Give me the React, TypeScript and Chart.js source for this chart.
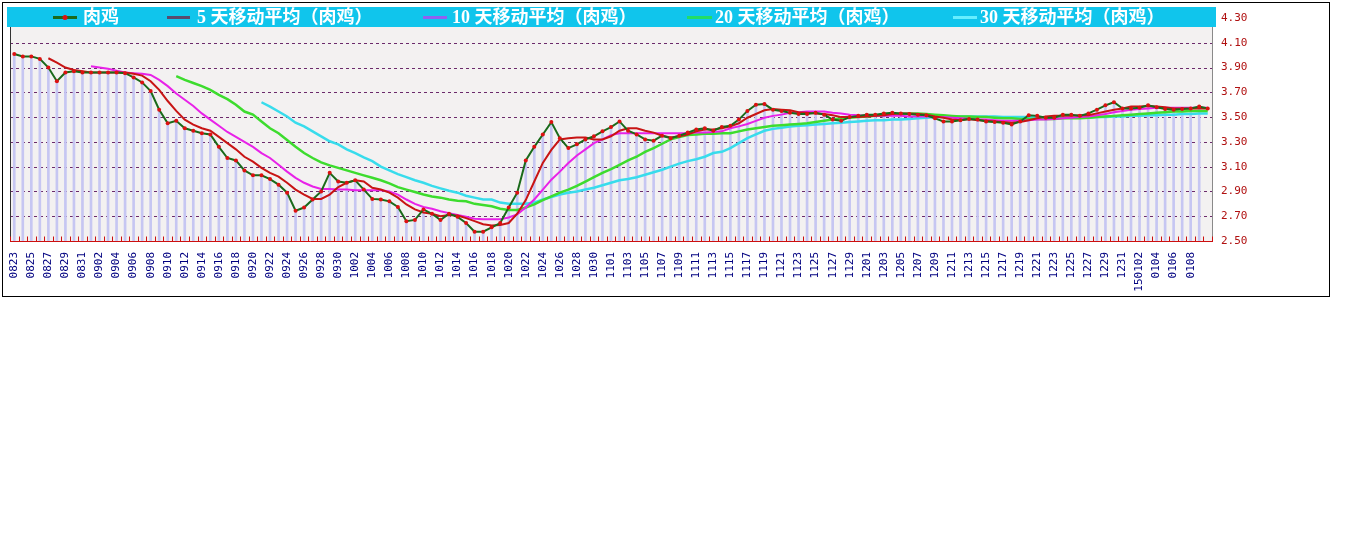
import React, { useEffect, useRef } from 'react';
import { Chart, registerables } from 'chart.js';

Chart.register(...registerables);

// ---------- DATA ----------
const dates = [
  '0823','0824','0825','0826','0827','0828','0829','0830','0831',
  '0901','0902','0903','0904','0905','0906','0907','0908','0909','0910',
  '0911','0912','0913','0914','0915','0916','0917','0918','0919','0920',
  '0921','0922','0923','0924','0925','0926','0927','0928','0929','0930',
  '1001','1002','1003','1004','1005','1006','1007','1008','1009','1010',
  '1011','1012','1013','1014','1015','1016','1017','1018','1019','1020',
  '1021','1022','1023','1024','1025','1026','1027','1028','1029','1030','1031',
  '1101','1102','1103','1104','1105','1106','1107','1108','1109','1110',
  '1111','1112','1113','1114','1115','1116','1117','1118','1119','1120',
  '1121','1122','1123','1124','1125','1126','1127','1128','1129','1130',
  '1201','1202','1203','1204','1205','1206','1207','1208','1209','1210',
  '1211','1212','1213','1214','1215','1216','1217','1218','1219','1220',
  '1221','1222','1223','1224','1225','1226','1227','1228','1229','1230','1231',
  '0101','150102','0103','0104','0105','0106','0107','0108','0109','0110',
];

// 肉鸡 daily price
const chicken = [
  4.01, 3.99, 3.99, 3.97, 3.90, 3.79, 3.86, 3.87, 3.86, 3.86, 3.86, 3.86, 3.86, 3.855,
  3.82, 3.78, 3.71, 3.56, 3.45, 3.47, 3.41, 3.39, 3.37, 3.36, 3.26, 3.17, 3.15, 3.07,
  3.03, 3.03, 3.00, 2.955, 2.89, 2.745, 2.77, 2.835, 2.90, 3.05, 2.98, 2.97, 2.99, 2.915,
  2.84, 2.835, 2.82, 2.775, 2.66, 2.67, 2.755, 2.72, 2.67, 2.72, 2.695, 2.645, 2.575, 2.575,
  2.61, 2.645, 2.77, 2.89, 3.15, 3.26, 3.36, 3.46, 3.33, 3.25, 3.28, 3.32, 3.345, 3.385,
  3.42, 3.465, 3.39, 3.36, 3.32, 3.31, 3.35, 3.33, 3.35, 3.375, 3.40, 3.41, 3.39, 3.42,
  3.43, 3.48, 3.55, 3.60, 3.605, 3.56, 3.55, 3.535, 3.525, 3.525, 3.535, 3.52, 3.48, 3.47,
  3.50, 3.51, 3.52, 3.52, 3.53, 3.535, 3.53, 3.525, 3.52, 3.515, 3.49, 3.465, 3.465, 3.475,
  3.485, 3.48, 3.465, 3.46, 3.455, 3.44, 3.465, 3.515, 3.51, 3.495, 3.495, 3.52, 3.52, 3.51,
  3.53, 3.56, 3.595, 3.62, 3.57, 3.57, 3.575, 3.595, 3.58, 3.565, 3.56, 3.565, 3.57, 3.585, 3.57,
];

// bars are shown for every day except the last one
const barValues = chicken.slice(0, 140);

// 5-day moving average (from 0827)
const ma5 = [
  3.975, 3.94, 3.90, 3.88, 3.87, 3.86, 3.86, 3.86, 3.86, 3.86, 3.85, 3.835, 3.79, 3.72,
  3.63, 3.55, 3.48, 3.44, 3.41, 3.39, 3.34, 3.29, 3.24, 3.18,
  3.14, 3.09, 3.05, 3.02, 2.97, 2.915, 2.875, 2.84, 2.84, 2.875, 2.935, 2.97, 2.99, 2.98,
  2.93, 2.915, 2.89, 2.85, 2.795, 2.755, 2.73, 2.72, 2.70, 2.71, 2.705, 2.685, 2.66, 2.635,
  2.625, 2.63, 2.645, 2.72, 2.83, 2.98, 3.13, 3.235, 3.32, 3.33, 3.335, 3.335, 3.32, 3.32,
  3.345, 3.39, 3.41, 3.41, 3.39, 3.375, 3.35, 3.335, 3.345, 3.36, 3.385, 3.40, 3.40, 3.41,
  3.425, 3.45, 3.495, 3.525, 3.555, 3.565, 3.56, 3.555, 3.54, 3.535, 3.53, 3.525, 3.515, 3.50,
  3.50, 3.50, 3.505, 3.51, 3.515, 3.525, 3.53, 3.53, 3.525, 3.52, 3.505, 3.495, 3.48, 3.475,
  3.485, 3.475, 3.47, 3.465, 3.46, 3.455, 3.46, 3.475, 3.49, 3.505, 3.51, 3.51, 3.51, 3.515,
  3.515, 3.53, 3.545, 3.56, 3.57, 3.585, 3.585, 3.59, 3.585, 3.58, 3.57, 3.57, 3.57, 3.57, 3.57,
];

// 10-day moving average (from 0901)
const ma10 = [
  3.91, 3.90, 3.89, 3.875, 3.86, 3.855, 3.85, 3.84, 3.80, 3.75, 3.69, 3.64, 3.59, 3.53,
  3.48, 3.43, 3.38, 3.34, 3.30,
  3.26, 3.21, 3.17, 3.115, 3.06, 3.01, 2.97, 2.94, 2.92, 2.92, 2.915, 2.915, 2.91, 2.91,
  2.91, 2.91, 2.90, 2.875, 2.835, 2.80, 2.775, 2.76, 2.74, 2.725, 2.71, 2.695, 2.68, 2.675,
  2.675, 2.675, 2.69, 2.715, 2.77, 2.835, 2.915, 2.995, 3.06, 3.13, 3.19, 3.24, 3.29, 3.32,
  3.355, 3.37, 3.37, 3.37, 3.37, 3.37, 3.37, 3.37, 3.37, 3.37, 3.375, 3.375, 3.38, 3.385,
  3.41, 3.425, 3.445, 3.47, 3.495, 3.51, 3.52, 3.535, 3.54, 3.545, 3.545, 3.545, 3.535, 3.53,
  3.52, 3.515, 3.51, 3.51, 3.51, 3.51, 3.51, 3.505, 3.505, 3.505, 3.50, 3.50, 3.495, 3.49,
  3.485, 3.48, 3.48, 3.475, 3.47, 3.47, 3.47, 3.475, 3.48, 3.48, 3.485, 3.49, 3.495, 3.50,
  3.505, 3.515, 3.525, 3.54, 3.55, 3.56, 3.565, 3.57, 3.575, 3.575, 3.575, 3.575, 3.575, 3.575, 3.575,
];

// 20-day moving average (from 0911)
const ma20 = [
  3.83, 3.80, 3.775, 3.75, 3.72, 3.68, 3.645, 3.60, 3.545,
  3.52, 3.465, 3.41, 3.37, 3.315, 3.26, 3.21, 3.17, 3.135, 3.11, 3.09, 3.07, 3.05, 3.03,
  3.01, 2.99, 2.965, 2.935, 2.915, 2.895, 2.875, 2.86, 2.85, 2.835, 2.825, 2.82, 2.80, 2.79,
  2.78, 2.76, 2.75, 2.75, 2.77, 2.795, 2.83, 2.86, 2.89, 2.915, 2.945, 2.98, 3.015, 3.05,
  3.08, 3.115, 3.15, 3.18, 3.22, 3.25, 3.285, 3.32, 3.34, 3.355, 3.36, 3.365, 3.365, 3.37,
  3.37, 3.385, 3.40, 3.41, 3.42, 3.43, 3.435, 3.44, 3.445, 3.45, 3.46, 3.47, 3.48, 3.49,
  3.495, 3.50, 3.505, 3.51, 3.515, 3.52, 3.525, 3.53, 3.53, 3.525, 3.52, 3.515, 3.51, 3.505,
  3.505, 3.50, 3.50, 3.495, 3.49, 3.49, 3.485, 3.485, 3.485, 3.485, 3.485, 3.49, 3.49, 3.49,
  3.495, 3.50, 3.505, 3.51, 3.515, 3.52, 3.525, 3.53, 3.535, 3.54, 3.545, 3.545, 3.55, 3.55, 3.55,
];

// 30-day moving average (from 0921)
const ma30 = [
  3.62, 3.585, 3.545, 3.505, 3.455, 3.425, 3.385, 3.345, 3.305, 3.28, 3.24, 3.21, 3.175,
  3.145, 3.10, 3.07, 3.04, 3.015, 2.99, 2.97, 2.945, 2.925, 2.905, 2.89, 2.865, 2.85, 2.835,
  2.835, 2.81, 2.80, 2.80, 2.80, 2.81, 2.835, 2.855, 2.875, 2.89, 2.90, 2.915, 2.93, 2.95,
  2.97, 2.99, 3.00, 3.015, 3.035, 3.055, 3.075, 3.10, 3.125, 3.145, 3.16, 3.18, 3.21, 3.22,
  3.25, 3.29, 3.33, 3.36, 3.39, 3.405, 3.415, 3.425, 3.43, 3.435, 3.44, 3.445, 3.45, 3.455,
  3.46, 3.465, 3.47, 3.475, 3.475, 3.48, 3.48, 3.485, 3.49, 3.495, 3.50, 3.50, 3.505, 3.505,
  3.505, 3.505, 3.505, 3.505, 3.50, 3.50, 3.50, 3.50, 3.50, 3.495, 3.495, 3.495, 3.495, 3.495,
  3.495, 3.50, 3.50, 3.505, 3.505, 3.51, 3.51, 3.515, 3.515, 3.52, 3.52, 3.525, 3.525, 3.53, 3.53,
];

const seriesNames = [
  '肉鸡',
  '5 天移动平均（肉鸡）',
  '10 天移动平均（肉鸡）',
  '20 天移动平均（肉鸡）',
  '30 天移动平均（肉鸡）',
];

const yMin = 2.5;
const yMax = 4.3;
const yStep = 0.2;

// x labels: every second day, last day unlabeled
const tickLabels = dates.map((d, i) => (i % 2 === 0 && i < dates.length - 1 ? d : ''));

const pad = (arr: number[]) => [
  ...Array(dates.length - arr.length).fill(null),
  ...arr,
];

// ---------- STYLE ----------
const W = 1346;
const H = 300;
const PLOT_LEFT = 10;
const PLOT_RIGHT = 1212;
const PLOT_TOP = 18;
const PLOT_BOTTOM = 241;

const legendItems = [
  { swatch: [53, 77], textX: 83, color: '#1a6a1a', dot: true },
  { swatch: [167, 190], textX: 197, color: '#5a4a6e', dot: false },
  { swatch: [423, 447], textX: 452, color: '#9060f0', dot: false },
  { swatch: [687, 712], textX: 715, color: '#22dd66', dot: false },
  { swatch: [953, 977], textX: 980, color: '#66eeff', dot: false },
];

const decor = {
  id: 'decor',
  beforeDraw(chart: any) {
    const { ctx, chartArea: a, width, height } = chart;
    ctx.save();
    ctx.fillStyle = '#ffffff';
    ctx.fillRect(0, 0, width, height);
    ctx.strokeStyle = '#000000';
    ctx.lineWidth = 1;
    ctx.strokeRect(2.5, 2.5, 1327, 294);
    ctx.fillStyle = '#f3f1f1';
    ctx.fillRect(a.left, a.top, a.right - a.left, a.bottom - a.top);
    const y = chart.scales.y;
    ctx.strokeStyle = '#6b2a6b';
    ctx.setLineDash([3, 3]);
    y.ticks.forEach((t: any) => {
      if (t.value <= y.min + 1e-9) return;
      const py = Math.round(y.getPixelForValue(t.value)) + 0.5;
      ctx.beginPath();
      ctx.moveTo(a.left, py);
      ctx.lineTo(a.right, py);
      ctx.stroke();
    });
    ctx.setLineDash([]);
    ctx.restore();
  },
  afterDatasetsDraw(chart: any) {
    const { ctx, chartArea: a } = chart;
    const x = chart.scales.x;
    ctx.save();
    ctx.lineWidth = 1;
    ctx.strokeStyle = '#333333';
    ctx.beginPath();
    ctx.moveTo(a.left + 0.5, a.top);
    ctx.lineTo(a.left + 0.5, a.bottom);
    ctx.stroke();
    ctx.strokeStyle = '#8a8a8a';
    ctx.beginPath();
    ctx.moveTo(a.right + 0.5, a.top);
    ctx.lineTo(a.right + 0.5, a.bottom);
    ctx.stroke();
    ctx.strokeStyle = '#cc1010';
    const by = Math.round(a.bottom) + 0.5;
    ctx.beginPath();
    ctx.moveTo(a.left, by);
    ctx.lineTo(a.right + 1, by);
    ctx.stroke();
    const step = x.getPixelForValue(1) - x.getPixelForValue(0);
    for (let i = 0; i <= dates.length; i++) {
      const px = Math.round(x.getPixelForValue(i) - step / 2) + 0.5;
      ctx.beginPath();
      ctx.moveTo(px, by);
      ctx.lineTo(px, by - 5);
      ctx.stroke();
    }
    ctx.restore();
  },
  afterDraw(chart: any) {
    const { ctx } = chart;
    ctx.save();
    ctx.fillStyle = '#10c5ec';
    ctx.fillRect(7, 7, 1209, 20);
    ctx.font = 'bold 18px "Liberation Serif", "Noto Sans CJK SC", serif';
    ctx.textBaseline = 'middle';
    ctx.textAlign = 'left';
    legendItems.forEach((it, i) => {
      ctx.strokeStyle = it.color;
      ctx.lineWidth = 3;
      ctx.beginPath();
      ctx.moveTo(it.swatch[0], 17.5);
      ctx.lineTo(it.swatch[1], 17.5);
      ctx.stroke();
      if (it.dot) {
        ctx.fillStyle = '#dd1111';
        ctx.beginPath();
        ctx.arc((it.swatch[0] + it.swatch[1]) / 2, 17.5, 2.5, 0, Math.PI * 2);
        ctx.fill();
      }
      ctx.fillStyle = '#ffffff';
      ctx.fillText(seriesNames[i], it.textX, 18);
    });
    ctx.restore();
  },
};

export default function App() {
  const ref = useRef<HTMLCanvasElement | null>(null);

  useEffect(() => {
    if (!ref.current) return;
    const chart = new Chart(ref.current, {
      type: 'bar',
      data: {
        labels: dates,
        datasets: [
          {
            type: 'line',
            label: seriesNames[0],
            data: chicken,
            borderColor: '#1a6a1a',
            borderWidth: 2,
            pointRadius: 2,
            pointBackgroundColor: '#dd1111',
            pointBorderWidth: 0,
            tension: 0,
            order: 1,
          },
          {
            type: 'line',
            label: seriesNames[1],
            data: pad(ma5),
            borderColor: '#c81414',
            borderWidth: 2,
            pointRadius: 0,
            tension: 0,
            order: 2,
          },
          {
            type: 'line',
            label: seriesNames[2],
            data: pad(ma10),
            borderColor: '#e822e8',
            borderWidth: 2,
            pointRadius: 0,
            tension: 0,
            order: 3,
          },
          {
            type: 'line',
            label: seriesNames[3],
            data: pad(ma20),
            borderColor: '#3ddc2e',
            borderWidth: 2.5,
            pointRadius: 0,
            tension: 0,
            order: 4,
          },
          {
            type: 'line',
            label: seriesNames[4],
            data: pad(ma30),
            borderColor: '#38dcec',
            borderWidth: 2.5,
            pointRadius: 0,
            tension: 0,
            order: 5,
          },
          {
            type: 'bar',
            label: 'bars',
            data: barValues,
            backgroundColor: '#c6c6f2',
            barThickness: 2,
            base: yMin,
            order: 10,
          } as any,
        ],
      },
      options: {
        responsive: false,
        animation: false,
        devicePixelRatio: 1,
        layout: { padding: { left: PLOT_LEFT, top: PLOT_TOP, right: 0, bottom: 0 } },
        plugins: {
          legend: { display: false },
          tooltip: { enabled: false },
        },
        scales: {
          x: {
            type: 'category',
            offset: true,
            grid: { display: false, drawTicks: false },
            border: { display: false },
            ticks: {
              autoSkip: false,
              minRotation: 90,
              maxRotation: 90,
              padding: 11,
              color: '#000080',
              font: { family: '"DejaVu Sans Mono", monospace', size: 11 },
              callback: (_v: any, i: number) => tickLabels[i],
            },
            afterFit: (s: any) => {
              s.height = H - PLOT_BOTTOM;
            },
          },
          y: {
            position: 'right',
            min: yMin,
            max: yMax,
            grid: { display: false, drawTicks: false },
            border: { display: false },
            ticks: {
              stepSize: yStep,
              padding: 9,
              color: '#b01010',
              font: { family: '"DejaVu Sans Mono", monospace', size: 11 },
              callback: (v: any) => Number(v).toFixed(2),
            },
            afterFit: (s: any) => {
              s.width = W - PLOT_RIGHT;
            },
          },
        },
      },
      plugins: [decor],
    });
    return () => chart.destroy();
  }, []);

  return (
    <div style={{ position: 'absolute', left: 0, top: 0, width: W, height: H, background: '#fff' }}>
      <canvas ref={ref} width={W} height={H} style={{ display: 'block', width: W, height: H }} />
    </div>
  );
}
